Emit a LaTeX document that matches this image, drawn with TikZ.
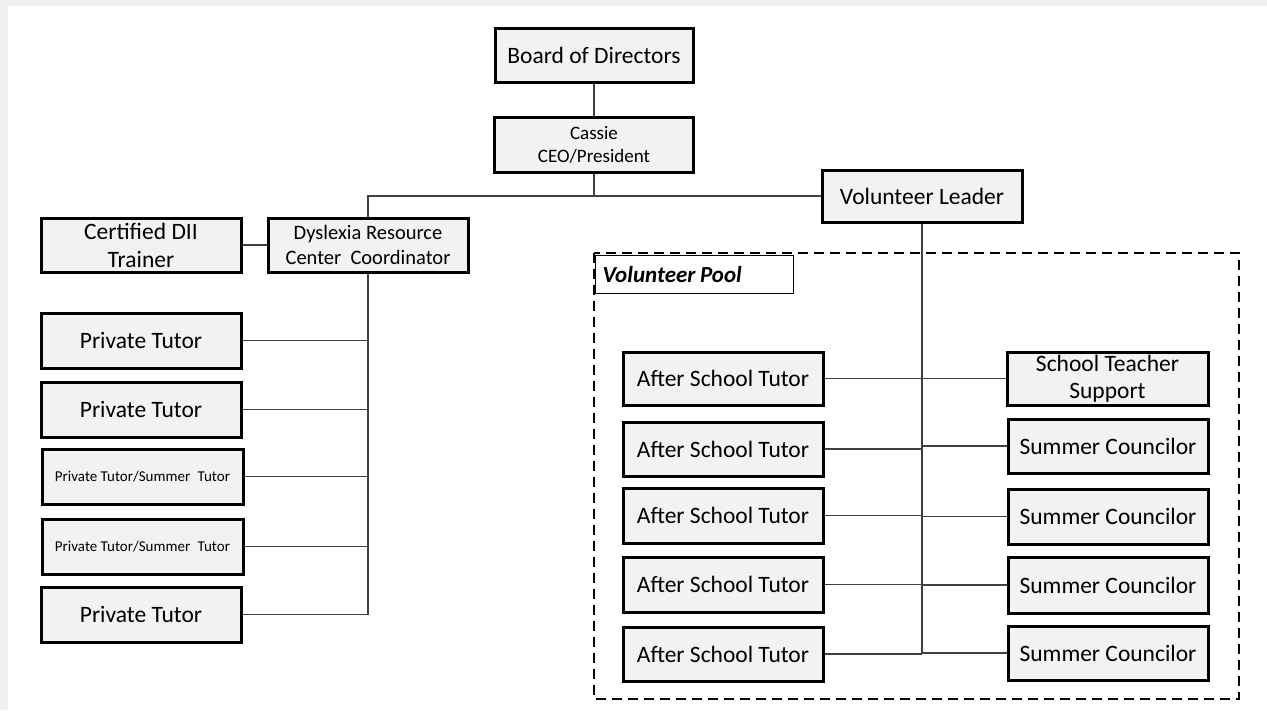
\documentclass[tikz,border=0pt]{standalone}
\usepackage{fontspec}
\setmainfont{Carlito}
\definecolor{boxfill}{HTML}{F2F2F2}
\definecolor{conncol}{HTML}{404040}
\definecolor{bggray}{HTML}{EFEFEF}
\begin{document}
\begin{tikzpicture}[x=1pt,y=-1pt,
  box/.style={draw=black, line width=3pt, fill=boxfill, minimum width=200pt,
    minimum height=54pt, inner sep=0pt, align=center,
    font=\fontsize{23.5}{28}\selectfont},
  conn/.style={draw=conncol, line width=1.8pt},
  poolframe/.style={draw=black, line width=2.8pt, dash pattern=on 10pt off 6pt}]
\fill[bggray] (0,0) rectangle (1267,710);
\fill[white] (8,6) rectangle (1267,710);
\useasboundingbox (0,0) rectangle (1267,710);

% volunteer pool label and frame
\node[draw=black, line width=1.3pt, fill=white, minimum width=198pt, minimum height=38pt,
  anchor=north west, inner xsep=7pt, inner ysep=0pt, text width=184pt, align=left,
  font=\fontsize{23}{28}\selectfont\bfseries\itshape] (pool) at (595,255) {Volunteer\hspace{0.2em}Pool};
\draw[poolframe] (594,253) rectangle (1239,699);

% top
\node[box, minimum width=198pt] (board) at (594,55) {Board of Directors};
\node[box, minimum width=199pt, minimum height=55pt, font=\fontsize{19}{23}\selectfont] (ceo) at (594,144.5) {Cassie\\CEO/President};
\node[box, minimum height=52pt] (vl) at (922,196) {Volunteer Leader};
\node[box] (dii) at (141,245) {Certified DII\\Trainer};
\node[box, font=\fontsize{20.5}{25}\selectfont] (drc) at (368,245) {Dyslexia Resource\\Center\hspace{0.45em}Coordinator};

% private tutors
\node[box, minimum height=55pt] (pt1) at (141,340.5) {Private Tutor};
\node[box, minimum height=55pt] (pt2) at (141,409.5) {Private Tutor};
\node[box, minimum width=201pt, minimum height=55pt, font=\fontsize{15}{18}\selectfont] (pt3) at (142.5,476.5) {Private Tutor/Summer\hspace{0.5em}Tutor};
\node[box, minimum width=201pt, minimum height=55pt, font=\fontsize{15}{18}\selectfont] (pt4) at (142.5,546.5) {Private Tutor/Summer\hspace{0.5em}Tutor};
\node[box, minimum height=55pt] (pt5) at (141,614.5) {Private Tutor};

% volunteer pool boxes
\node[box, minimum height=53pt] (ast1) at (723,378.5) {After School Tutor};
\node[box] (ast2) at (723,449) {After School Tutor};
\node[box, minimum height=55pt] (ast3) at (723,515.5) {After School Tutor};
\node[box, minimum height=55pt] (ast4) at (723,584.5) {After School Tutor};
\node[box] (ast5) at (723,654) {After School Tutor};

\node[box, minimum width=201pt, minimum height=53pt, font=\fontsize{23.5}{27}\selectfont] (sts) at (1107.5,378.5) {School Teacher\\Support};
\node[box] (sc2) at (1108,446) {Summer Councilor};
\node[box, minimum height=55pt] (sc3) at (1108,516.5) {Summer Councilor};
\node[box, minimum height=56pt] (sc4) at (1108,585) {Summer Councilor};
\node[box] (sc5) at (1108,653) {Summer Councilor};

% connectors
\coordinate (j1) at (594,196);
\draw[conn] (board.south) -- (ceo.north);
\draw[conn] (ceo.south) -- (j1) -| (drc.north);
\draw[conn] (j1) -- (vl.west);
\draw[conn] (dii.east) -- (drc.west);
\draw[conn] (drc.south) |- (pt5.east);
\foreach \n in {pt1,pt2,pt3,pt4}
  \draw[conn] (\n.east) -- (\n.east -| drc.south);

\draw[conn] (vl.south) |- (sc5.west);
\draw[conn] (ast5.east) -- (ast5.east -| vl.south);
\foreach \a/\b in {ast1/sts,ast2/sc2,ast3/sc3,ast4/sc4}{
  \draw[conn] (\a.east) -- (\a.east -| vl.south);
  \draw[conn] (\b.west -| vl.south) -- (\b.west);
}
\end{tikzpicture}
\end{document}
